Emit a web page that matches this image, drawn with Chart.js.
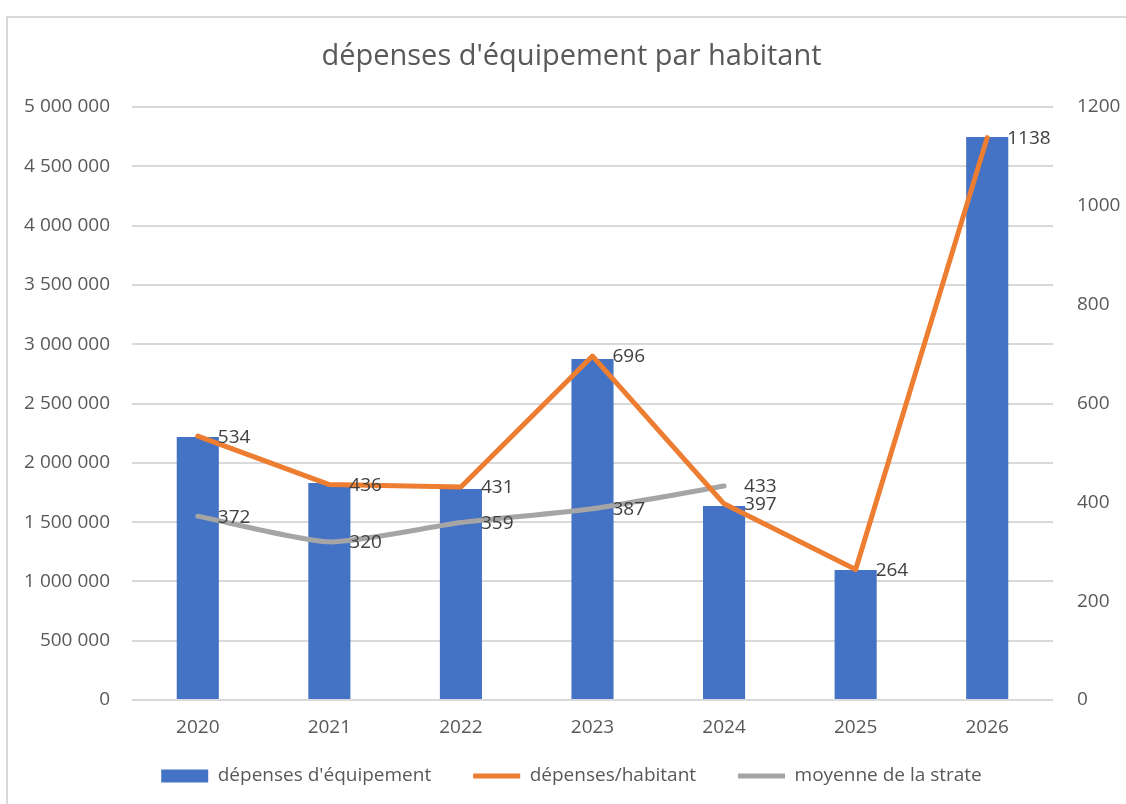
<!DOCTYPE html>
<html>
<head>
<meta charset="utf-8">
<script src="https://cdn.jsdelivr.net/npm/chart.js@4.4.0/dist/chart.umd.min.js"></script>
<style>
  html, body { margin: 0; padding: 0; background: #ffffff; overflow: hidden; }
  #frame { position: absolute; left: 6px; top: 16px; width: 1300px; height: 1000px; border: 2px solid #D9D9D9; box-sizing: border-box; }
  #wrap { position: absolute; left: 0; top: 0; width: 1126px; height: 804px; }
</style>
</head>
<body>
<div id="frame"></div>
<div id="wrap"><canvas id="c" width="1126" height="804"></canvas></div>
<script>
const categories = ['2020', '2021', '2022', '2023', '2024', '2025', '2026'];
const depensesEquipement = [2218000, 1830000, 1779000, 2875000, 1636000, 1096000, 4747000];
const depensesParHabitant = [534, 436, 431, 696, 397, 264, 1138];
const moyenneStrate = [372, 320, 359, 387, 433, null, null];
const leftTicks = [0, 500000, 1000000, 1500000, 2000000, 2500000, 3000000, 3500000, 4000000, 4500000, 5000000];
const rightTicks = [0, 200, 400, 600, 800, 1000, 1200];

const FONT = '"Open Sans", "Liberation Sans", sans-serif';

function fmtSpace(v) {
  return String(v).replace(/\B(?=(\d{3})+(?!\d))/g, ' ');
}

const labelPlugin = {
  id: 'pointLabels',
  afterDatasetsDraw(chart) {
    const ctx = chart.ctx;
    ctx.save();
    ctx.font = '19px ' + FONT;
    ctx.fillStyle = '#404040';
    ctx.textAlign = 'left';
    ctx.textBaseline = 'middle';
    chart.data.datasets.forEach((ds, di) => {
      if (ds.type !== 'line') return;
      const meta = chart.getDatasetMeta(di);
      meta.data.forEach((pt, i) => {
        const v = ds.data[i];
        if (v === null || v === undefined) return;
        ctx.fillText(String(v), pt.x + 20, pt.y + 1);
      });
    });
    ctx.restore();
  }
};

new Chart(document.getElementById('c'), {
  data: {
    labels: categories,
    datasets: [
      {
        type: 'bar',
        label: "dépenses d'équipement",
        data: depensesEquipement,
        yAxisID: 'y',
        backgroundColor: '#4472C4',
        borderWidth: 0,
        pointStyle: 'rect',
        barPercentage: 0.32,
        categoryPercentage: 1,
        order: 3
      },
      {
        type: 'line',
        label: "dépenses/habitant",
        data: depensesParHabitant,
        yAxisID: 'y1',
        borderColor: '#ED7D31',
        backgroundColor: '#ED7D31',
        borderWidth: 5,
        pointRadius: 0,
        pointStyle: 'line',
        tension: 0,
        borderCapStyle: 'round',
        borderJoinStyle: 'round',
        order: 1
      },
      {
        type: 'line',
        label: 'moyenne de la strate',
        data: moyenneStrate,
        yAxisID: 'y1',
        borderColor: '#A5A5A5',
        backgroundColor: '#A5A5A5',
        borderWidth: 5,
        pointRadius: 0,
        pointStyle: 'line',
        tension: 0.2,
        borderCapStyle: 'round',
        borderJoinStyle: 'round',
        order: 2
      }
    ]
  },
  options: {
    responsive: false,
    animation: false,
    devicePixelRatio: 1,
    layout: { padding: { left: 23, right: 6, top: 0, bottom: 8.5 } },
    plugins: {
      title: {
        display: true,
        text: "dépenses d'équipement par habitant",
        color: '#595959',
        font: { family: FONT, size: 29, weight: 'normal', lineHeight: 1.2 },
        padding: { top: 39.6, bottom: 32.6 }
      },
      legend: {
        position: 'bottom',
        labels: {
          usePointStyle: true,
          pointStyleWidth: 47,
          boxWidth: 47,
          boxHeight: 13,
          color: '#595959',
          font: { family: FONT, size: 19 },
          padding: 42,
          sort: (a, b) => a.datasetIndex - b.datasetIndex
        }
      },
      tooltip: { enabled: false }
    },
    scales: {
      x: {
        offset: true,
        grid: { display: false },
        border: { display: false },
        ticks: { color: '#595959', font: { family: FONT, size: 19 }, padding: 8 },
        afterFit(axis) {
          axis.height = 24.5;
          axis._computeLabelArea = () => undefined;
        }
      },
      y: {
        position: 'left',
        min: 0,
        max: 5000000,
        afterBuildTicks(axis) { axis.ticks = leftTicks.map(v => ({ value: v })); },
        afterFit(axis) { axis.width = 109; },
        grid: { color: '#D9D9D9', lineWidth: 2, drawTicks: false },
        border: { display: false },
        ticks: { color: '#595959', font: { family: FONT, size: 19 }, padding: 22, callback: v => fmtSpace(v) }
      },
      y1: {
        position: 'right',
        min: 0,
        max: 1200,
        afterBuildTicks(axis) { axis.ticks = rightTicks.map(v => ({ value: v })); },
        afterFit(axis) { axis.width = 67; },
        grid: { display: false, drawOnChartArea: false, drawTicks: false },
        border: { display: false },
        ticks: { color: '#595959', font: { family: FONT, size: 19 }, padding: 24, callback: v => String(v) }
      }
    }
  },
  plugins: [labelPlugin]
});
</script>
</body>
</html>
